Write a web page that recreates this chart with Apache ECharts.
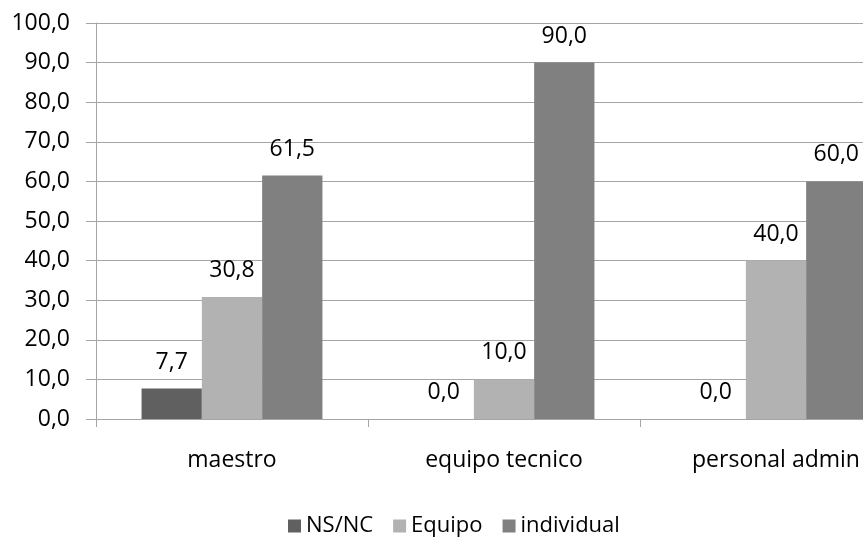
<!DOCTYPE html>
<html>
<head>
<meta charset="utf-8">
<script src="https://cdn.jsdelivr.net/npm/echarts@6/dist/echarts.min.js"></script>
<style>
  html, body { margin: 0; padding: 0; background: #fff; overflow: hidden; }
  /* the plot runs past the right edge of the window, so the last bar is clipped */
  #chart { width: 912px; height: 542px; }
</style>
</head>
<body>
<div id="chart"></div>
<script>
const categories = ['maestro', 'equipo tecnico', 'personal admin'];
const seriesNames = ['NS/NC', 'Equipo', 'individual'];
const nsnc = [7.7, 0.0, 0.0];
const equipo = [30.8, 10.0, 40.0];
const individual = [61.5, 90.0, 60.0];
const colors = ['#606060', '#b2b2b2', '#808080'];

const fmt = v => Number(v).toFixed(1).replace('.', ',');
const FONT = '"Open Sans", sans-serif';
const FONT_SIZE = 23;
const AXIS_GREY = '#a5a5a5';

function barSeries(name, data, color) {
  return {
    name: name,
    type: 'bar',
    data: data,
    barGap: '0%',
    barCategoryGap: '33.5%',
    itemStyle: { color: color },
    label: {
      show: true,
      position: 'top',
      distance: 15,
      color: '#000',
      fontFamily: FONT,
      fontSize: FONT_SIZE,
      formatter: p => fmt(p.value)
    }
  };
}

const chart = echarts.init(document.getElementById('chart'));
chart.setOption({
  animation: false,
  color: colors,
  grid: { left: 96, top: 23, right: 0, height: 396, containLabel: false },
  legend: {
    left: 283,
    top: 510,
    itemWidth: 13,
    itemHeight: 13,
    itemGap: 20,
    icon: 'rect',
    textStyle: { fontFamily: FONT, fontSize: 22, color: '#000' },
    data: seriesNames
  },
  xAxis: {
    type: 'category',
    data: categories,
    axisLine: { lineStyle: { color: AXIS_GREY, width: 1 } },
    axisTick: { show: true, alignWithLabel: false, length: 8, lineStyle: { color: AXIS_GREY } },
    axisLabel: { fontFamily: FONT, fontSize: FONT_SIZE, color: '#000', margin: 30 }
  },
  yAxis: {
    type: 'value',
    min: 0,
    max: 100,
    interval: 10,
    axisLine: { show: true, lineStyle: { color: AXIS_GREY, width: 1 } },
    axisTick: { show: true, length: 10, lineStyle: { color: AXIS_GREY } },
    splitLine: { lineStyle: { color: AXIS_GREY, width: 1 } },
    axisLabel: { fontFamily: FONT, fontSize: FONT_SIZE, color: '#000', margin: 26, formatter: fmt }
  },
  series: [
    barSeries(seriesNames[0], nsnc, colors[0]),
    barSeries(seriesNames[1], equipo, colors[1]),
    barSeries(seriesNames[2], individual, colors[2])
  ]
});
</script>
</body>
</html>
